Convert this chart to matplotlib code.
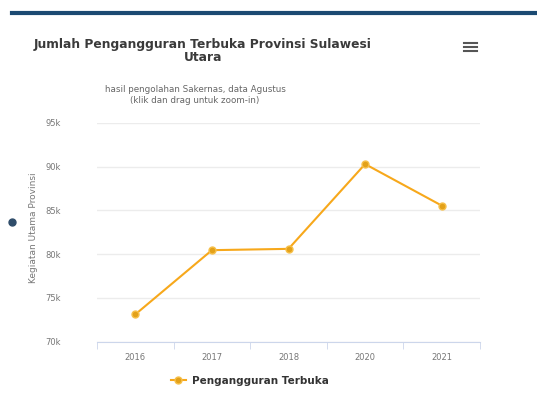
import matplotlib.pyplot as plt
from matplotlib.ticker import FuncFormatter, MultipleLocator

tahun = ['2016', '2017', '2018', '2020', '2021']
penganggur = [73100, 80450, 80600, 90300, 85550]

judul = 'Jumlah Pengangguran Terbuka Provinsi Sulawesi\nUtara'
sub_judul = 'hasil pengolahan Sakernas, data Agustus\n(klik dan drag untuk zoom-in)'
label_y = 'Kegiatan Utama Provinsi'
nama_seri = 'Pengangguran Terbuka'

plt.rcParams['font.family'] = ['DejaVu Sans']
fig = plt.figure(figsize=(5.37, 3.98), dpi=100)
ax = fig.add_axes([97/537, 1 - 341.5/398, 383/537, (341.5 - 123)/398])

x = list(range(len(tahun)))
ax.plot(x, penganggur, color='#f7a81b', lw=1.5, marker='o', ms=5,
        mfc='#e3a119', mec='#f7c04a', label=nama_seri, zorder=3)

ax.set_xlim(-0.5, len(tahun) - 0.5)
ax.set_ylim(70000, 95000)
ax.yaxis.set_major_locator(MultipleLocator(5000))
ax.yaxis.set_major_formatter(FuncFormatter(lambda v, p: '%dk' % (v / 1000)))
ax.set_xticks(x)
ax.set_xticklabels(tahun)
ax.set_xticks([i - 0.5 for i in range(len(tahun) + 1)], minor=True)
ax.grid(axis='y', color='#ececec', lw=1)
ax.set_axisbelow(True)
for s in ['top', 'right', 'left']:
    ax.spines[s].set_visible(False)
ax.spines['bottom'].set_color('#ccd6eb')
ax.tick_params(axis='y', length=0, labelsize=6, labelcolor='#777777', pad=37)
ax.tick_params(axis='x', which='major', length=0, labelsize=6, labelcolor='#777777', pad=8)
ax.tick_params(axis='x', which='minor', length=5, color='#ccd6eb')
for t in ax.get_yticklabels():
    t.set_horizontalalignment('left')

fig.text(33/537, 1 - 228/398, label_y, rotation=90, ha='center', va='center',
         fontsize=6.5, color='#777777')
fig.text(203/537, 1 - 51/398, judul, ha='center', va='center', fontsize=8.8,
         fontweight='bold', color='#3a3a3a', linespacing=1.05)
fig.text(195/537, 1 - 95/398, sub_judul, ha='center', va='center', fontsize=6.3,
         color='#666666', linespacing=1.2)

# garis biru di atas dan ikon menu
fig.add_artist(plt.Line2D([12/537, 1], [1 - 13/398, 1 - 13/398], color='#1b4a72', lw=3))
for yy in [43, 47, 51]:
    fig.add_artist(plt.Line2D([464/537, 477/537], [1 - yy/398, 1 - yy/398], color='#555555', lw=1.5))
fig.add_artist(plt.Line2D([12/537], [1 - 222/398], marker='o', ms=5, color='#2f4d6a'))

fig.legend(loc='center', bbox_to_anchor=(250/537, 1 - 381/398), frameon=False,
           handlelength=1.5, handletextpad=0.6, labelcolor='#333333',
           prop={'weight': 'semibold', 'size': 7.5})

fig.savefig('out.png', dpi=100)
